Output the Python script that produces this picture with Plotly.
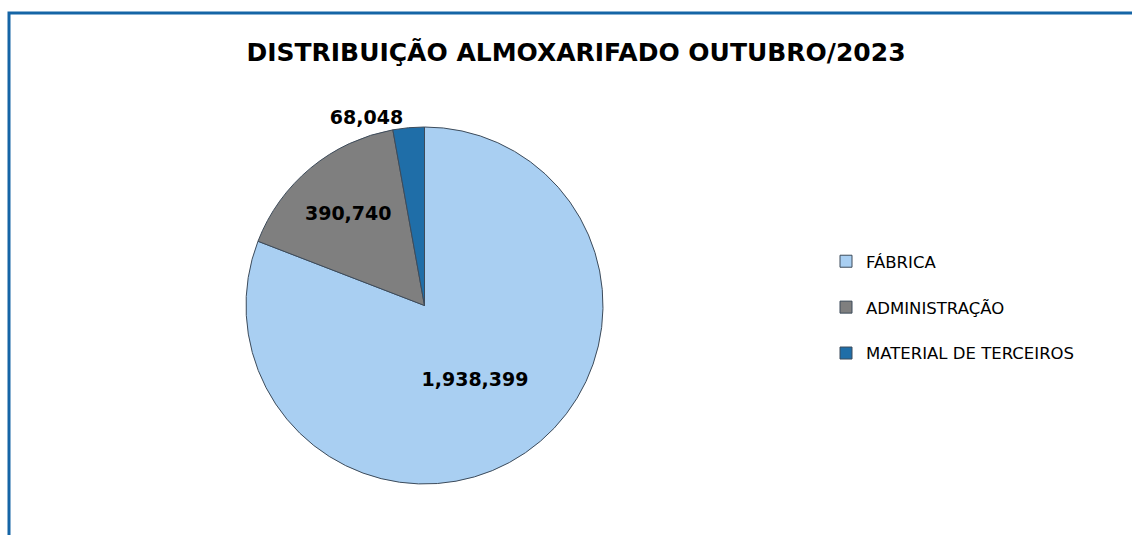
import plotly.graph_objects as go

categories = ["FÁBRICA", "ADMINISTRAÇÃO", "MATERIAL DE TERCEIROS"]
values = [1938399, 390740, 68048]
value_labels = ["1,938,399", "390,740", "68,048"]
colors = ["#A9CFF2", "#7F7F7F", "#1F6EA8"]

W, H = 1132, 535
FONT = "DejaVu Sans"

# extra blank line under each legend entry reproduces the wide legend spacing
legend_labels = [c + "<br> " for c in categories]

fig = go.Figure()
fig.add_trace(go.Pie(
    labels=legend_labels,
    values=values,
    text=value_labels,
    customdata=categories,
    hovertemplate="%{customdata}: %{value:,}<extra></extra>",
    textinfo="text",
    textposition=["inside", "inside", "outside"],
    insidetextorientation="horizontal",
    sort=False,
    direction="clockwise",
    rotation=0,
    marker=dict(colors=colors, line=dict(color="#3d4b5a", width=1)),
    textfont=dict(family=FONT, size=19, color="#000000", weight="bold"),
    domain=dict(x=[246 / W, 603 / W], y=[(H - 484) / H, (H - 127) / H]),
    showlegend=True,
))

fig.update_layout(
    width=W, height=H,
    margin=dict(l=0, r=0, t=0, b=0),
    paper_bgcolor="white",
    plot_bgcolor="white",
    title=dict(
        text="<b>DISTRIBUIÇÃO ALMOXARIFADO OUTUBRO/2023</b>",
        x=576 / W, xanchor="center",
        y=(H - 52) / H, yanchor="middle",
        font=dict(family=FONT, size=25, color="#000000"),
    ),
    legend=dict(
        x=826 / W, xanchor="left",
        y=(H - 318) / H, yanchor="middle",
        font=dict(family=FONT, size=16.5, color="#000000"),
        valign="top",
        itemwidth=30,
    ),
    shapes=[dict(
        type="rect", xref="paper", yref="paper",
        x0=9 / W, x1=1.05, y0=-0.05, y1=(H - 13) / H,
        line=dict(color="#1565A6", width=3),
        fillcolor="rgba(0,0,0,0)",
        layer="above",
    )],
)

fig.write_html("out.html")
